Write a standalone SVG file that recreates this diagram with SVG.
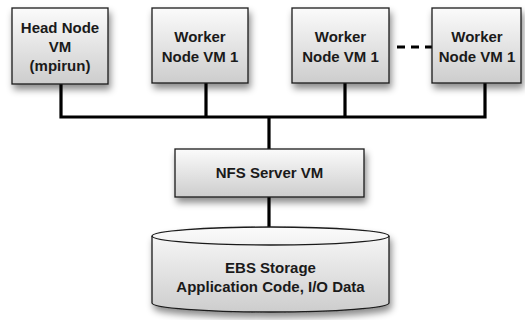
<svg xmlns="http://www.w3.org/2000/svg" width="525" height="320" viewBox="0 0 525 320">
<defs>
<linearGradient id="g" x1="0" y1="0" x2="0" y2="1">
<stop offset="0" stop-color="#fbfbfb"/>
<stop offset="1" stop-color="#cdcdcd"/>
</linearGradient>
<filter id="sh" x="-20%" y="-20%" width="150%" height="160%">
<feDropShadow dx="2" dy="5" stdDeviation="3.5" flood-color="#000" flood-opacity="0.45"/>
</filter>
</defs>
<style>
.box{fill:url(#g);stroke:#1a1a1a;stroke-width:1.3;filter:url(#sh)}
.t{font-family:"Liberation Sans",Arial,sans-serif;font-weight:bold;font-size:15px;fill:#1a1a1a;text-anchor:middle}
.c{fill:none;stroke:#000;stroke-width:3.2}
</style>
<rect width="525" height="320" fill="#fff"/>
<g id="connectors">
<path class="c" d="M61 84V117H485V83M206 83V117M345 83V117M269 117V149M269 197V228"/>
<path class="c" d="M397 47H432" stroke-dasharray="8,6"/>
</g>
<g id="head">
<rect class="box" x="12" y="8" width="96" height="76"/>
<text class="t" x="60" y="33">Head Node</text>
<text class="t" x="60" y="52">VM</text>
<text class="t" x="60" y="71">(mpirun)</text>
</g>
<g id="worker1">
<rect class="box" x="152" y="8" width="96" height="75"/>
<text class="t" x="200" y="42">Worker</text>
<text class="t" x="200" y="62">Node VM 1</text>
</g>
<g id="worker2">
<rect class="box" x="292" y="8" width="97" height="75"/>
<text class="t" x="340.5" y="42">Worker</text>
<text class="t" x="340.5" y="62">Node VM 1</text>
</g>
<g id="worker3">
<rect class="box" x="432" y="8" width="89" height="75"/>
<text class="t" x="477" y="42">Worker</text>
<text class="t" x="477" y="62">Node VM 1</text>
</g>
<g id="nfs">
<rect class="box" x="175" y="149" width="189" height="48"/>
<text class="t" x="269.5" y="178">NFS Server VM</text>
</g>
<g id="ebs">
<path class="box" d="M152 236A118.5 9 0 0 1 389 236V303A118.5 9 0 0 1 152 303Z"/>
<path d="M152 236A118.5 9 0 0 0 389 236" fill="none" stroke="#1a1a1a" stroke-width="1.3"/>
<text class="t" x="270.5" y="273">EBS Storage</text>
<text class="t" x="270.5" y="292">Application Code, I/O Data</text>
</g>
</svg>
